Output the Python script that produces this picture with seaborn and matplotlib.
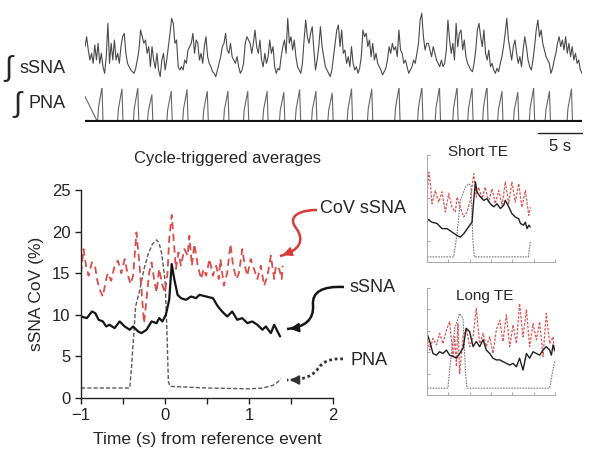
import numpy as np
import seaborn as sns
import matplotlib.pyplot as plt
from matplotlib.path import Path
from matplotlib.patches import PathPatch, FancyArrowPatch

# ---- data ----
# raw integrated sSNA (arbitrary units), sampled uniformly over the record
ssna_raw = [100, 130, 90, 60, 80, 50, 105, 60, 110, 50, 80, 40, 20, 70, 170, 50, 110, 60, 120, 60,
            80, 50, 100, 130, 140, 80, 50, 40, 30, 25, 20, 35, 60, 90, 150, 130, 110, 120, 80, 100,
            40, 100, 60, 35, 80, 30, 10, 60, 80, 30, 60, 100, 140, 185, 170, 110, 120, 40, 30, 40,
            30, 60, 50, 90, 100, 110, 140, 80, 120, 110, 60, 80, 50, 100, 130, 70, 50, 40, 25, 20,
            10, 30, 50, 70, 100, 110, 140, 90, 80, 110, 70, 60, 50, 70, 40, 20, 30, 50, 110, 130,
            120, 110, 80,
            110, 150, 100, 80, 120, 60, 40, 80, 50, 70, 120, 80, 100, 40, 20, 35, 30, 70, 100, 120,
            80, 185, 110, 130, 90, 120, 70, 40, 30, 20, 50, 120, 180, 130, 110, 140, 160, 90, 30, 60,
            100, 160, 100, 70, 40, 30, 20, 10, 30, 70, 110, 150, 165, 100, 150, 80, 90, 50, 70, 40,
            100, 50, 30, 40, 20, 35, 70, 150, 130, 140, 100, 120, 70, 110, 60, 80, 50, 40, 30, 15,
            25, 35, 60, 100, 80, 110, 90, 100, 70, 150, 90, 80, 50, 60, 40, 20, 30, 40, 60, 50,
            80, 110, 180, 200, 130, 90, 110,
            110, 90, 70, 100, 80, 60, 50, 40, 60, 40, 50, 90, 180, 120, 80, 110, 60, 170, 100, 140,
            150, 90, 120, 70, 50, 40, 30, 25, 50, 90, 150, 170, 130, 100, 150, 80, 60, 90, 40, 50,
            30, 20, 35, 25, 50, 70, 100, 140, 185, 120, 90, 60, 100, 120, 80, 50, 70, 40, 90, 130,
            100, 60, 40, 30, 60, 100, 150, 180, 130, 150, 110, 90, 70, 60, 50, 20, 35, 60, 80, 110,
            130, 100, 120, 90, 130, 80, 110, 70, 100, 60, 80, 50, 60, 30, 20]
record_len = 56.5  # s
pna_start_level = 75
pna_peak_t = [1.93, 4.2, 6.0, 7.6, 9.8, 11.6, 13.9, 16.25, 18.5, 20.7, 22.6, 24.4, 26.25, 28.1,
              30.3, 32.6, 35.7, 38.3, 40.3, 42.3, 44.0, 45.7, 47.4, 49.2, 51.0, 52.8, 55.3]
pna_peak_h = [103, 97, 100, 80, 90, 95, 90, 90, 90, 90, 87, 95, 90, 85, 97, 97, 103, 103,
              103, 103, 100, 107, 90, 87, 100, 90, 97]

# cycle-triggered averages
main_ssna_t = [-1.0, -0.93, -0.87, -0.83, -0.79, -0.74, -0.70, -0.66, -0.60, -0.54, -0.48, -0.42,
               -0.38, -0.32, -0.28, -0.22, -0.16, -0.10, -0.07, -0.03, 0.01, 0.05, 0.08, 0.11,
               0.15, 0.19, 0.25, 0.31, 0.37, 0.41, 0.49, 0.57, 0.63, 0.68, 0.74, 0.80, 0.86,
               0.92, 0.98, 1.04, 1.10, 1.16, 1.20, 1.26, 1.30, 1.34, 1.37]
main_ssna_v = [9.8, 9.6, 10.4, 10.2, 9.4, 9.2, 8.6, 8.8, 8.4, 9.2, 8.6, 8.2, 8.6, 8.0, 7.8, 8.2,
               9.2, 9.0, 9.6, 9.2, 10.0, 11.8, 16.1, 14.3, 12.4, 12.0, 11.8, 12.2, 12.0, 12.4,
               12.2, 12.0, 11.0, 10.4, 9.8, 10.4, 9.4, 9.6, 9.0, 9.2, 8.8, 8.2, 8.6, 7.8, 8.8,
               8.0, 7.4]
main_cov_t = [-1.00, -0.97, -0.94, -0.91, -0.87, -0.83, -0.81, -0.78, -0.74, -0.70, -0.68, -0.64,
              -0.60, -0.56, -0.52, -0.48, -0.44, -0.41, -0.38, -0.34, -0.31, -0.28, -0.25, -0.22,
              -0.19, -0.16, -0.13, -0.10, -0.07, -0.03, 0.00, 0.03, 0.05, 0.08, 0.10, 0.13, 0.16,
              0.19, 0.23, 0.27, 0.29, 0.32, 0.35, 0.39, 0.43, 0.46, 0.49, 0.53, 0.57, 0.61, 0.64,
              0.66, 0.70, 0.74, 0.78, 0.81, 0.85, 0.88, 0.92, 0.95, 0.98, 1.02, 1.06, 1.10, 1.14,
              1.18, 1.22, 1.26, 1.30, 1.32, 1.36, 1.39, 1.40]
main_cov_v = [15.0, 17.9, 15.9, 14.7, 16.3, 15.7, 14.3, 13.1, 12.2, 14.3, 15.0, 14.1, 15.9, 16.5,
              15.0, 16.7, 14.7, 13.7, 14.7, 19.9, 16.7, 13.1, 9.0, 11.8, 15.0, 16.3, 14.3, 12.7,
              15.5, 13.5, 12.7, 15.0, 19.1, 22.0, 19.5, 15.5, 17.5, 15.9, 17.9, 17.1, 19.5, 15.9,
              18.5, 15.9, 14.3, 15.5, 14.7, 16.7, 14.7, 15.9, 14.3, 16.7, 13.5, 15.0, 18.5, 15.9,
              14.3, 15.0, 17.9, 15.9, 14.7, 16.7, 15.5, 14.3, 15.9, 13.5, 14.7, 17.1, 14.3, 15.9,
              15.5, 14.3, 15.9]
main_pna_t = [-1.0, -0.42, -0.40, -0.37, -0.35, -0.30, -0.25, -0.20, -0.15, -0.10, -0.07, -0.04,
              0.00, 0.02, 0.04, 0.06, 0.5, 1.0, 1.16, 1.28, 1.34, 1.38]
main_pna_v = [1.2, 1.2, 3.5, 8.0, 11.0, 13.0, 15.5, 17.3, 18.5, 19.0, 18.6, 17.4, 14.2, 9.0,
              2.0, 1.4, 1.2, 1.1, 1.2, 1.5, 1.9, 2.3]

# short TE inset
short_ssna_t = [0.0, 0.23, 0.47, 0.70, 0.94, 1.17, 1.41, 1.56, 1.72, 1.95, 2.11, 2.19, 2.27, 2.34,
                2.50, 2.66, 2.81, 2.97, 3.13, 3.28, 3.44, 3.59, 3.67, 3.83, 3.98, 4.14, 4.30,
                4.38, 4.53, 4.61, 4.69, 4.77, 4.84]
short_ssna_v = [10.1, 9.3, 9.0, 7.8, 7.8, 7.0, 6.2, 5.8, 6.6, 8.2, 9.3, 14.4, 18.7, 16.4, 15.2,
                14.4, 14.8, 13.6, 12.9, 13.6, 12.5, 13.2, 14.4, 12.9, 11.3, 10.5, 10.1, 9.0, 8.6,
                9.3, 7.8, 8.6, 8.2]
short_cov_t = [0.0, 0.08, 0.16, 0.23, 0.39, 0.55, 0.70, 0.86, 1.02, 1.17, 1.33, 1.41, 1.56, 1.72,
               1.88, 2.03, 2.19, 2.31, 2.42, 2.58, 2.73, 2.89, 3.05, 3.20, 3.36, 3.52, 3.67, 3.83,
               3.98, 4.14, 4.30, 4.45, 4.61, 4.77, 4.84]
short_cov_v = [15.2, 21.0, 18.3, 13.6, 16.7, 14.0, 16.4, 11.7, 16.0, 12.8, 11.7, 15.2, 12.8,
               10.5, 11.7, 14.4, 20.6, 15.2, 17.5, 14.8, 17.5, 14.0, 17.1, 13.6, 16.7, 13.2,
               18.7, 13.6, 18.7, 14.0, 18.3, 12.8, 16.7, 10.9, 12.8]
short_pna_t = [0.0, 1.25, 1.41, 1.56, 1.80, 1.95, 2.06, 2.15, 2.22, 3.5, 4.75, 4.85]
short_pna_v = [1.2, 1.2, 6.6, 14.4, 17.5, 18.3, 17.9, 5.0, 1.2, 1.2, 1.2, 5.0]

# long TE inset
long_ssna_t = [0.0, 0.13, 0.28, 0.44, 0.59, 0.75, 0.91, 1.06, 1.22, 1.38, 1.53, 1.69, 1.84, 2.0,
               2.16, 2.31, 2.47, 2.63, 2.78, 2.94, 3.09, 3.25, 3.41, 3.56, 3.72, 3.88, 4.03,
               4.19, 4.34, 4.50, 4.66, 4.81, 4.97, 5.13, 5.28, 5.44, 5.59, 5.75, 5.83, 5.91, 5.98]
long_ssna_v = [14.4, 12.5, 9.7, 9.3, 10.1, 9.7, 10.5, 9.3, 9.0, 8.6, 9.7, 10.9, 15.6, 14.8, 11.3,
               12.5, 11.3, 12.9, 10.5, 9.7, 8.6, 8.2, 8.2, 7.8, 7.4, 7.0, 7.4, 6.6, 8.6, 5.8, 9.7,
               8.6, 10.1, 9.7, 9.3, 10.5, 11.3, 10.5, 9.3, 11.7, 10.5]
long_cov_t = [0.0, 0.13, 0.28, 0.44, 0.59, 0.75, 0.91, 1.06, 1.22, 1.30, 1.38, 1.45, 1.53, 1.69,
              1.84, 2.0, 2.16, 2.31, 2.47, 2.63, 2.78, 2.94, 3.09, 3.25, 3.41, 3.56, 3.72, 3.88,
              4.03, 4.19, 4.34, 4.50, 4.66, 4.81, 4.97, 5.13, 5.28, 5.44, 5.59, 5.75, 5.91, 5.98]
long_cov_v = [13.6, 10.5, 13.2, 11.7, 14.4, 12.0, 15.2, 17.1, 9.0, 13.6, 6.6, 16.7, 5.0, 13.6,
              15.6, 11.3, 13.6, 20.2, 12.0, 14.4, 11.3, 13.6, 9.7, 15.2, 17.5, 12.5, 18.7, 11.3,
              16.4, 12.0, 21.4, 13.6, 19.9, 11.3, 16.7, 12.9, 17.1, 9.0, 19.1, 12.0, 13.6, 9.7]
long_pna_t = [0.0, 0.98, 1.14, 1.30, 1.53, 1.69, 1.81, 1.87, 3.5, 5.75, 5.87, 5.98]
long_pna_v = [1.6, 1.6, 9.7, 15.6, 19.0, 17.9, 5.0, 1.6, 1.6, 1.6, 5.0, 7.8]

# ---- figure ----
sns.set_style('white')
plt.rcParams['font.family'] = ['Liberation Sans', 'DejaVu Sans']

W, H = 601, 461
fig = plt.figure(figsize=(W / 100, H / 100), dpi=100)


def px_axes(left, top, right, bottom):
    return fig.add_axes([left / W, 1 - bottom / H, (right - left) / W, (bottom - top) / H])


def fp(x, y):
    return (x / W, 1 - y / H)


# top raw traces
ax_s = px_axes(85, 10, 582, 80)
t_raw = np.linspace(0, record_len, len(ssna_raw))
sns.lineplot(x=t_raw, y=ssna_raw, ax=ax_s, color='#4a4a4a', lw=0.8, sort=False, estimator=None)
ax_s.set_xlim(0, record_len)
ax_s.set_ylim(0, 210)
ax_s.axis('off')

pna_t = [0.0]
pna_v = [pna_start_level]
for tp, h in zip(pna_peak_t, pna_peak_h):
    pna_t += [tp - 0.5, tp - 0.4, tp, tp + 0.12]
    pna_v += [0, 0.4 * h, h, 0]
pna_t.append(record_len)
pna_v.append(0)
ax_p = px_axes(85, 88, 582, 122)
sns.lineplot(x=pna_t, y=pna_v, ax=ax_p, color='#666666', lw=0.8, sort=False, estimator=None)
ax_p.plot([0, record_len], [0, 0], color='#111111', lw=3.0, solid_capstyle='butt')
ax_p.plot([record_len - 5, record_len], [-32, -32], color='#222222', lw=1.0, clip_on=False)
ax_p.text(record_len - 2.5, -73, '5 s', ha='center', va='center', fontsize=12)
ax_p.set_xlim(0, record_len)
ax_p.set_ylim(0, 100)
ax_p.axis('off')

fig.text(*fp(4, 68), '\u222b', fontsize=21, va='center', ha='left')
fig.text(*fp(20, 68), 'sSNA', fontsize=13, va='center', ha='left')
fig.text(*fp(13, 104), '\u222b', fontsize=21, va='center', ha='left')
fig.text(*fp(29, 104), 'PNA', fontsize=13, va='center', ha='left')

# main averages
ax = px_axes(81, 190, 333, 398)
sns.lineplot(x=main_pna_t, y=main_pna_v, ax=ax, color='#5a5a5a', lw=1.0, sort=False,
             estimator=None, linestyle=(0, (3, 1.5)))
sns.lineplot(x=main_cov_t, y=main_cov_v, ax=ax, color='#dd4b4b', lw=1.3, sort=False,
             estimator=None, linestyle=(0, (4, 2.5)))
sns.lineplot(x=main_ssna_t, y=main_ssna_v, ax=ax, color='#151515', lw=1.6, sort=False,
             estimator=None)
ax.set_xlim(-1, 2)
ax.set_ylim(0, 25)
ax.set_xticks([-1, 0, 1, 2])
ax.set_xticks([-0.5, 0.5, 1.5], minor=True)
ax.set_yticks([0, 5, 10, 15, 20, 25])
ax.tick_params(which='both', direction='out', length=4, width=1, colors='#222222',
               labelsize=12, bottom=True, left=True)
for side in ['top', 'right']:
    ax.spines[side].set_visible(False)
for side in ['left', 'bottom']:
    ax.spines[side].set_color('#222222')
    ax.spines[side].set_linewidth(1.0)
ax.set_xlabel('Time (s) from reference event', fontsize=12.5, labelpad=6)
ax.set_ylabel('sSNA CoV (%)', fontsize=12.5, labelpad=6)
fig.text(*fp(227, 159), 'Cycle-triggered averages', fontsize=12, ha='center', va='center')

# arrows
def curved_arrow(verts, color, ls, lw, head_from):
    codes = [Path.MOVETO] + [Path.CURVE4] * (len(verts) - 1)
    path = Path([fp(*v) for v in verts], codes)
    fig.add_artist(PathPatch(path, fill=False, edgecolor=color, lw=lw, linestyle=ls,
                             transform=fig.transFigure))
    fig.add_artist(FancyArrowPatch(fp(*head_from), fp(*verts[-1]), arrowstyle='-|>',
                                   mutation_scale=14, color=color, lw=1.2,
                                   transform=fig.transFigure))


curved_arrow([(317, 210), (300, 210), (287, 216), (296, 228),
              (305, 240), (300, 251), (280, 256)], '#d93a35', '-', 1.8, (288, 253))
curved_arrow([(344, 287), (322, 286), (312, 292), (313, 305),
              (314, 320), (305, 327), (287, 329)], '#151515', '-', 1.8, (296, 328))
curved_arrow([(343, 359), (330, 358), (322, 362), (317, 370),
              (310, 378), (300, 380), (287, 380)], '#333333', (0, (1, 1)), 2.0, (296, 380))
fig.text(*fp(320, 208), 'CoV sSNA', fontsize=13, va='center', ha='left')
fig.text(*fp(350, 287), 'sSNA', fontsize=13, va='center', ha='left')
fig.text(*fp(350, 360), 'PNA', fontsize=13, va='center', ha='left')


# insets
def inset(box, ssna_t, ssna_v, cov_t, cov_v, pna_t_, pna_v_, title, title_xy):
    a = px_axes(*box)
    sns.lineplot(x=pna_t_, y=pna_v_, ax=a, color='#777777', lw=0.8, sort=False,
                 estimator=None, linestyle=(0, (1.5, 1)))
    sns.lineplot(x=cov_t, y=cov_v, ax=a, color='#dd5555', lw=0.9, sort=False,
                 estimator=None, linestyle=(0, (2, 1.2)))
    sns.lineplot(x=ssna_t, y=ssna_v, ax=a, color='#202020', lw=1.0, sort=False,
                 estimator=None)
    a.set_xlim(0, 6)
    a.set_ylim(0, 25)
    a.set_xticks(range(7))
    a.set_yticks([0, 5, 10, 15, 20, 25])
    a.tick_params(direction='in', length=2, width=0.6, colors='#999999',
                  labelbottom=False, labelleft=False, bottom=True, left=True)
    for side in ['top', 'right']:
        a.spines[side].set_visible(False)
    for side in ['left', 'bottom']:
        a.spines[side].set_color('#aaaaaa')
        a.spines[side].set_linewidth(0.7)
    fig.text(*fp(*title_xy), title, fontsize=11, ha='center', va='center')


inset((427, 155, 555, 262), short_ssna_t, short_ssna_v, short_cov_t, short_cov_v,
      short_pna_t, short_pna_v, 'Short TE', (478, 152))
inset((427, 288, 555, 395), long_ssna_t, long_ssna_v, long_cov_t, long_cov_v,
      long_pna_t, long_pna_v, 'Long TE', (485, 296))

fig.savefig('out.png', dpi=100)
